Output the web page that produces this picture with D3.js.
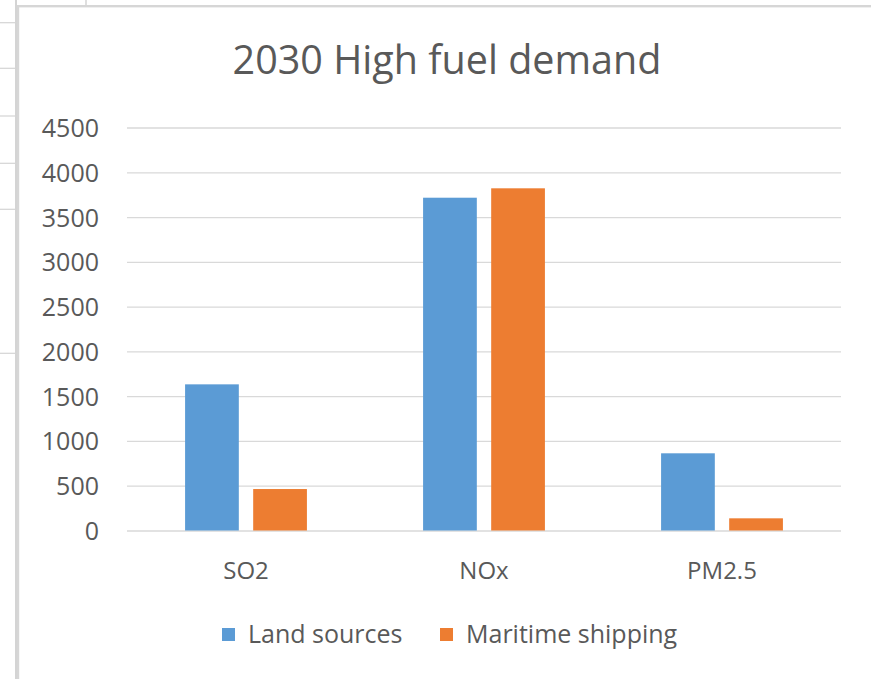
<!DOCTYPE html>
<html>
<head>
<meta charset="utf-8">
<script src="https://cdn.jsdelivr.net/npm/d3@7"></script>
<style>
  html, body { margin: 0; padding: 0; background: #ffffff; }
  svg { display: block; }
  text { font-family: "Open Sans", "Noto Sans", sans-serif; fill: #595959; }
</style>
</head>
<body>
<svg id="chart" width="871" height="679"></svg>
<script>
// Emissions by pollutant, 2030 high fuel demand scenario
const categories = ["SO2", "NOx", "PM2.5"];
const seriesNames = ["Land sources", "Maritime shipping"];
const landSources = [1632, 3716, 862];
const maritimeShipping = [463, 3821, 136];
const yTickValues = [0, 500, 1000, 1500, 2000, 2500, 3000, 3500, 4000, 4500];
const seriesColors = ["#5b9bd5", "#ed7d31"];
const titleText = "2030 High fuel demand";

const seriesValues = [landSources, maritimeShipping];
const rows = categories.map((c, i) => ({
  category: c,
  values: seriesNames.map((s, j) => ({ series: s, value: seriesValues[j][i], color: seriesColors[j] }))
}));

const W = 871, H = 679;
const svg = d3.select("#chart");

// Spreadsheet grid showing around the embedded chart
const sheet = svg.append("g").attr("stroke", "#d4d4d4").attr("fill", "none");
[22.7, 68.3, 116, 163.3, 209.3, 353.3].forEach(y => {
  sheet.append("line").attr("x1", 0).attr("x2", 16).attr("y1", y).attr("y2", y).attr("stroke-width", 1.2);
});
sheet.append("line").attr("x1", 16).attr("x2", 16).attr("y1", 0).attr("y2", H).attr("stroke-width", 2);
sheet.append("line").attr("x1", 86).attr("x2", 86).attr("y1", 0).attr("y2", 6).attr("stroke-width", 1.5);

// Chart area with its border
svg.append("rect")
  .attr("x", 18).attr("y", 6.2)
  .attr("width", W + 20).attr("height", H + 20)
  .attr("fill", "#ffffff")
  .attr("stroke", "#d6d6d6").attr("stroke-width", 2.4);

const plot = { left: 127, right: 841, top: 127.5, bottom: 530.5 };

const y = d3.scaleLinear().domain([0, 4500]).range([plot.bottom, plot.top]);
const x0 = d3.scaleBand().domain(categories).range([plot.left, plot.right]).padding(0);
const x1 = d3.scaleBand().domain(seriesNames).range([0, x0.bandwidth()])
  .paddingInner(0.211).paddingOuter(0.853);

// Value axis labels and gridlines
const yAxis = d3.axisLeft(y).tickValues(yTickValues).tickFormat(d3.format("d"))
  .tickSize(0).tickPadding(0);
const gAxis = svg.append("g").attr("transform", `translate(${plot.left},0)`).call(yAxis);
gAxis.select(".domain").remove();
gAxis.selectAll(".tick text")
  .attr("x", 99 - plot.left)
  .attr("dy", "0.36em")
  .attr("text-anchor", "end")
  .style("font-size", "25px")
  .style("font-family", "'Open Sans', 'Noto Sans', sans-serif")
  .attr("fill", "#595959");
gAxis.selectAll(".tick line")
  .attr("x1", 0).attr("x2", plot.right - plot.left)
  .attr("stroke", "#d9d9d9").attr("stroke-width", 1.3);

// Bars
const groups = svg.append("g").selectAll("g")
  .data(rows).join("g")
  .attr("transform", d => `translate(${x0(d.category)},0)`);
groups.selectAll("rect")
  .data(d => d.values).join("rect")
  .attr("x", d => x1(d.series))
  .attr("width", x1.bandwidth())
  .attr("y", d => y(d.value))
  .attr("height", d => y(0) - y(d.value))
  .attr("fill", d => d.color);

// Category axis labels
const xAxis = d3.axisBottom(x0).tickSize(0).tickPadding(0);
const gX = svg.append("g").attr("transform", `translate(0,${plot.bottom})`).call(xAxis);
gX.select(".domain").remove();
gX.selectAll(".tick text")
  .attr("y", 48.5)
  .attr("dy", 0)
  .style("font-size", "24px")
  .style("font-family", "'Open Sans', 'Noto Sans', sans-serif")
  .attr("fill", "#595959");

// Title
svg.append("text")
  .attr("x", 447).attr("y", 74)
  .attr("text-anchor", "middle")
  .style("font-size", "39.5px")
  .text(titleText);

// Legend
const legendX = [222, 440];
const legend = svg.append("g").selectAll("g")
  .data(seriesNames).join("g")
  .attr("transform", (d, i) => `translate(${legendX[i]},628)`);
legend.append("rect")
  .attr("width", 13).attr("height", 13)
  .attr("fill", (d, i) => seriesColors[i]);
legend.append("text")
  .attr("x", 26).attr("y", 14.5)
  .style("font-size", "25px")
  .text(d => d);
</script>
</body>
</html>
